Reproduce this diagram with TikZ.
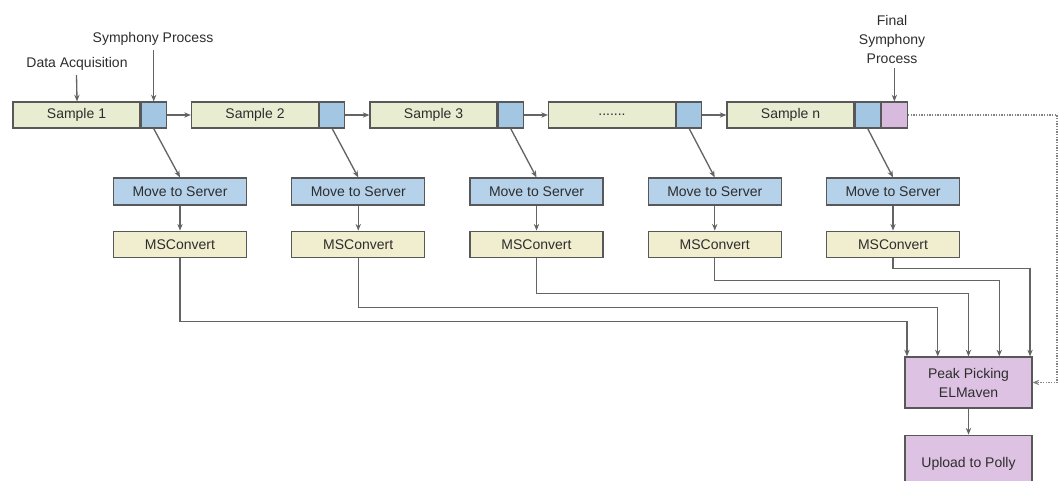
\documentclass[tikz,border=0pt]{standalone}
\usepackage{fontspec}
\setmainfont{Liberation Sans}
\usetikzlibrary{positioning,calc,arrows.meta}
\definecolor{samplefill}{RGB}{232,237,210}
\definecolor{procblue}{RGB}{163,198,226}
\definecolor{movefill}{RGB}{181,210,234}
\definecolor{mscfill}{RGB}{241,237,207}
\definecolor{finalpink}{RGB}{217,186,223}
\definecolor{peakfill}{RGB}{222,194,227}
\definecolor{edgegray}{RGB}{88,88,88}
\definecolor{linegray}{RGB}{100,100,100}
\definecolor{txtgray}{RGB}{45,45,45}

\begin{document}
\begin{tikzpicture}[x=0.75pt,y=-0.75pt,font=\fontsize{10.5}{14.25}\selectfont,text=txtgray,
	box/.style={draw=edgegray,line width=0.9pt,inner sep=0pt,minimum height=19.5pt},
	sample/.style={box,fill=samplefill,minimum width=95.25pt},
	proc/.style={box,fill=procblue,minimum width=18.75pt},
	finalproc/.style={box,fill=finalpink,minimum width=19.5pt},
	movebox/.style={box,fill=movefill,minimum width=99.75pt,minimum height=20.25pt},
	mscbox/.style={box,fill=mscfill,minimum width=99.75pt},
	peak/.style={box,fill=peakfill,minimum width=95.25pt,minimum height=38.25pt,align=center},
	link/.style={draw=linegray,line width=1pt,-{Stealth[length=5pt,width=4pt]}},
	feed/.style={draw=linegray!80,line width=1pt,densely dotted,-{Stealth[length=5pt,width=4pt]}}]
	\useasboundingbox (0,0) rectangle (1060,481);
	
	% top row
	\foreach \i/\lab in {1/Sample 1,2/Sample 2,3/Sample 3,4/{.......},5/Sample n}{
		\node[sample] (s\i) at ({76.5+178.5*(\i-1)},115) {\lab};
		\node[proc,right=0pt of s\i] (b\i) {};
	}
	\node[finalproc,right=0pt of b5] (pf) {};
	\foreach \i/\j in {1/2,2/3,3/4,4/5}
		\draw[link] (b\i.east) -- (s\j.west);
	
	% labels on top
	\node (da) at (77,64) {Data Acquisition};
	\node (sp) at (153,39) {Symphony Process};
	\node[align=center] (fs) at (892,39) {Final\\Symphony\\Process};
	\draw[link] (da.south -| s1.north) -- ([xshift=0.4pt]s1.north);
	\draw[link] (sp.south -| b1.north) -- (b1.north);
	\draw[link] (fs.south -| pf.north) -- (pf.north);
	
	% server + convert
	\foreach \i in {1,...,5}{
		\node[movebox] (m\i) at ({180+178.25*(\i-1)},191.5) {Move to Server};
		\node[mscbox,below=18.75pt of m\i] (msc\i) {MSConvert};
		\draw[link] (b\i.south) -- (m\i.north);
		\draw[link] (m\i) -- (msc\i);
	}
	
	% peak picking
	\node[peak] (pk) at (968.5,382.5) {Peak Picking\\ELMaven};
	\node[peak,minimum height=43.5pt,below=19.5pt of pk] (up) {Upload to Polly};
	\draw[link] (pk) -- (up);
	\foreach \i/\f/\d in {1/0.02/64,2/0.26/50,3/0.5/36,4/0.74/23,5/0.98/11}
		\draw[link] (msc\i.south) -- ++(0,\d) -| ($(pk.north west)!\f!(pk.north east)$);
	
	% final run back to peak picking
	\coordinate (edge) at (1057,115);
	\draw[feed] (pf.east) -- (pf.east -| edge) -- (edge |- pk.east) -- (pk.east);
\end{tikzpicture}
\end{document}
